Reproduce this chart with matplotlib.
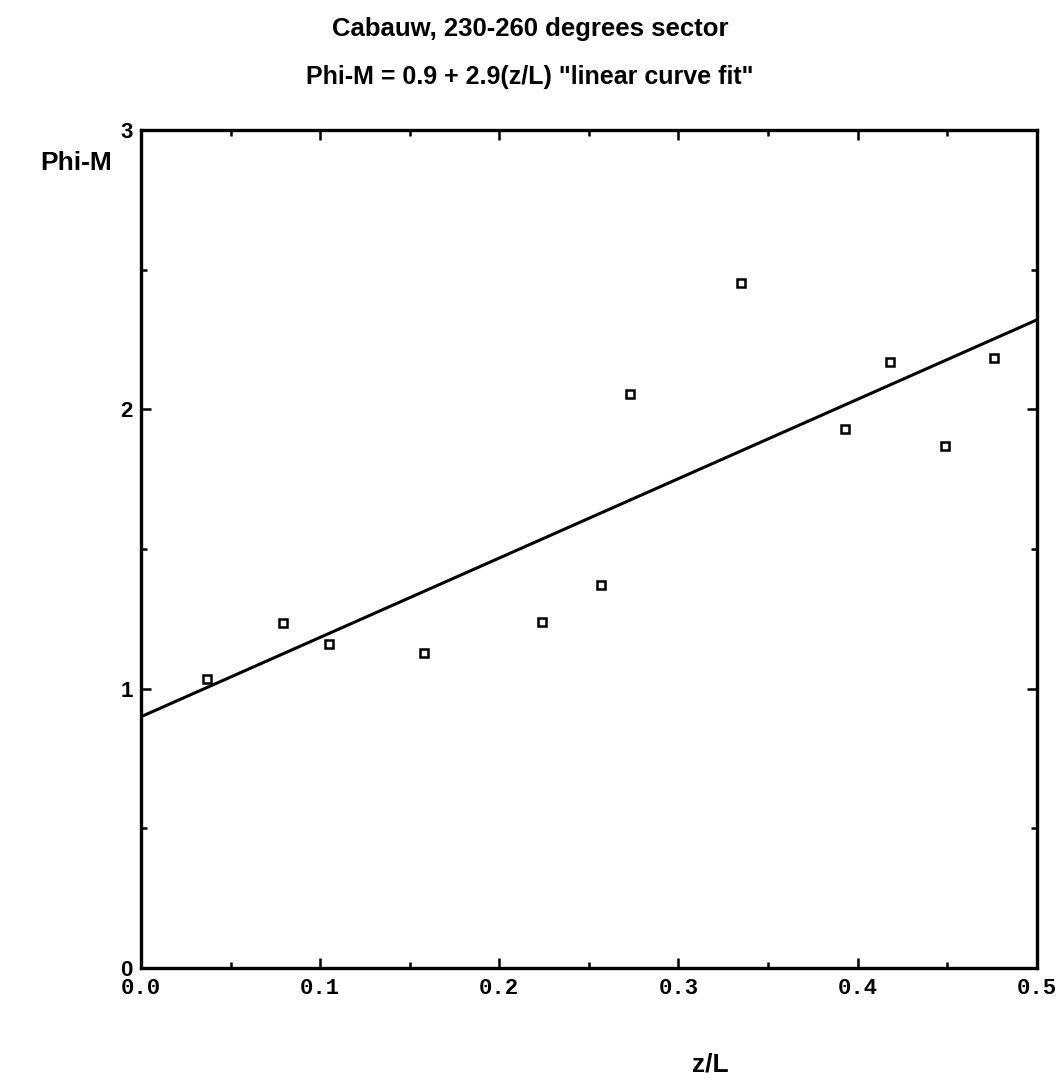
import matplotlib
matplotlib.use("Agg")
import matplotlib.pyplot as plt
from matplotlib.ticker import MultipleLocator, FixedLocator, FixedFormatter

# data
z_over_L = [0.037, 0.079, 0.105, 0.158, 0.224, 0.257, 0.273, 0.335, 0.393, 0.418, 0.449, 0.476]
phi_m = [1.035, 1.235, 1.160, 1.128, 1.239, 1.371, 2.055, 2.453, 1.930, 2.170, 1.869, 2.184]

# fitted line as drawn (intercept, slope)
fit_intercept = 0.9
fit_slope = 2.84
fit_x = [0.0, 0.5]

x_ticks = [0.0, 0.1, 0.2, 0.3, 0.4, 0.5]
x_tick_labels = ["0.0", "0.1", "0.2", "0.3", "0.4", "0.5"]
y_ticks = [0, 1, 2, 3]
y_tick_labels = ["0", "1", "2", "3"]

plt.rcParams["font.family"] = ["Liberation Sans", "DejaVu Sans"]

fig = plt.figure(figsize=(10.6, 10.83), dpi=100)
ax = fig.add_axes([0.133, 0.106, 0.845, 0.774])

# fit line
fit_y = [fit_intercept + fit_slope * x for x in fit_x]
ax.plot(fit_x, fit_y, color="black", linewidth=2.2, solid_capstyle="butt")

# data points as open squares
ax.plot(z_over_L, phi_m, linestyle="none", marker="s", markersize=6.0,
        markerfacecolor="white", markeredgecolor="black", markeredgewidth=1.8)

ax.set_xlim(0, 0.5)
ax.set_ylim(0, 3)

ax.xaxis.set_major_locator(FixedLocator(x_ticks))
ax.xaxis.set_major_formatter(FixedFormatter(x_tick_labels))
ax.xaxis.set_minor_locator(MultipleLocator(0.05))
ax.yaxis.set_major_locator(FixedLocator(y_ticks))
ax.yaxis.set_major_formatter(FixedFormatter(y_tick_labels))
ax.yaxis.set_minor_locator(MultipleLocator(0.5))

ax.tick_params(which="both", direction="in", top=True, right=True, width=1.8, color="black")
ax.tick_params(which="major", length=7)
ax.tick_params(which="minor", length=4)
ax.tick_params(axis="y", pad=6)
ax.tick_params(axis="x", pad=7)

for lab in ax.get_yticklabels():
    lab.set_fontsize(16)
    lab.set_fontweight("bold")
for lab in ax.get_xticklabels():
    lab.set_fontsize(16)
    lab.set_fontweight("bold")
    lab.set_family(["Liberation Mono", "DejaVu Sans Mono"])

for s in ax.spines.values():
    s.set_linewidth(2.4)

# titles and axis labels placed as in the reference
fig.text(0.5, 1 - 29 / 1083, "Cabauw, 230-260 degrees sector", ha="center", va="center",
         fontsize=18.5, fontweight="bold")
fig.text(0.5, 1 - 77 / 1083, 'Phi-M = 0.9 + 2.9(z/L) "linear curve fit"', ha="center", va="center",
         fontsize=18, fontweight="bold")
fig.text(76 / 1060, 1 - 163 / 1083, "Phi-M", ha="center", va="center",
         fontsize=19, fontweight="bold")
fig.text(710 / 1060, 1 - 1065 / 1083, "z/L", ha="center", va="center",
         fontsize=19, fontweight="bold")

fig.savefig("out.png", dpi=100, facecolor="white")
